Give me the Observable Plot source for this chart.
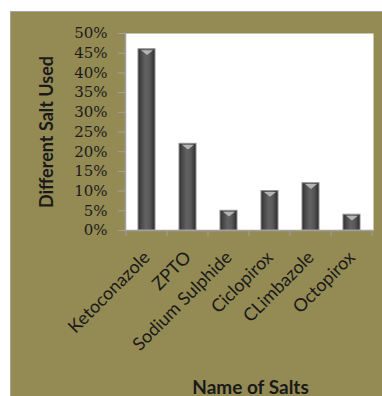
<!DOCTYPE html>
<html>
<head>
<meta charset="utf-8">
<script src="https://cdn.jsdelivr.net/npm/d3@7"></script>
<script src="https://cdn.jsdelivr.net/npm/@observablehq/plot@0.6"></script>
<style>
  html, body { margin: 0; padding: 0; background: #ffffff; }
  body { width: 382px; height: 396px; position: relative; overflow: hidden; }
  #panel { position: absolute; left: 10px; top: 11px; width: 380px; height: 400px;
           background: #948a54; border-left: 1px solid #a5a5a5; border-top: 1px solid #a5a5a5; box-sizing: border-box; }
  #chart { position: absolute; left: 10px; top: 11px; }
  #chart svg { display: block; }
</style>
</head>
<body>
<div id="panel"></div>
<div id="chart"></div>
<script>
const categories = ["Ketoconazole", "ZPTO", "Sodium Sulphide", "Ciclopirox", "CLimbazole", "Octopirox"];
const values = [46, 22, 5, 10, 12, 4];
const yTicks = [0, 5, 10, 15, 20, 25, 30, 35, 40, 45, 50];
const yTitle = "Different Salt Used";
const xTitle = "Name of Salts";

const data = categories.map((c, i) => ({salt: c, value: values[i]}));

const chevron = {
  draw(ctx, size) {
    const w = Math.sqrt(size);
    ctx.moveTo(-w, -w * 0.35);
    ctx.lineTo(w, -w * 0.35);
    ctx.lineTo(0, w * 0.45);
    ctx.closePath();
  }
};

const plot = Plot.plot({
  width: 372,
  height: 385,
  marginLeft: 115,
  marginRight: 9,
  marginTop: 22,
  marginBottom: 166,
  style: {background: "transparent", overflow: "visible"},
  x: {domain: categories, paddingInner: 0.58, paddingOuter: 0.29, label: null, axis: null},
  y: {domain: [0, 50], label: null, axis: null},
  marks: [
    Plot.frame({fill: "white", stroke: "none"}),
    Plot.axisY({ticks: yTicks, tickFormat: d => d + "%", tickSize: 7, tickPadding: 11,
      stroke: "#a0a0a0", fill: "#1a1a1a", fontFamily: "DejaVu Serif", fontSize: 15, label: null}),
    Plot.axisX({tickRotate: -45, tickSize: 0, tickPadding: 24,
      fill: "#1a1a1a", fontFamily: "Lato", fontSize: 18, label: null}),
    Plot.barY(data, {x: "salt", y: "value", fill: "url(#barGrad)", stroke: "#8f8f8f", strokeWidth: 1}),
    Plot.dot(data, {x: "salt", y: "value", symbol: chevron, r: 3.4, dy: 3, fill: "#b4b4b4", stroke: "none"}),
    Plot.ruleY([0], {stroke: "#a0a0a0", strokeWidth: 1.5}),
    Plot.frame({anchor: "left", stroke: "#a0a0a0", strokeWidth: 1.5}),
    Plot.text([yTitle], {frameAnchor: "left", textAnchor: "middle", lineAnchor: "middle", rotate: -90, dx: -78,
      fontWeight: "bold", fontFamily: "Lato", fontSize: 18, fill: "#1a1a1a"}),
    Plot.text([xTitle], {frameAnchor: "bottom", lineAnchor: "bottom", dy: 163, dx: 1, fontWeight: "bold",
      fontFamily: "Lato", fontSize: 19, fill: "#1a1a1a"})
  ]
});

// gradient for cylinder-like bars
const svg = d3.select(plot);
const defs = svg.insert("defs", ":first-child");
const g = defs.append("linearGradient").attr("id", "barGrad").attr("x1", "0").attr("x2", "1").attr("y1", "0").attr("y2", "0");
[["0%", "#2c2c2c"], ["18%", "#484848"], ["45%", "#626262"], ["70%", "#585858"], ["90%", "#3a3a3a"], ["100%", "#2a2a2a"]]
  .forEach(([o, c]) => g.append("stop").attr("offset", o).attr("stop-color", c));

// category boundary ticks below the x axis, positioned from Plot's own x scale
const xs = plot.scale("x");
const ys = plot.scale("y");
const gap = (xs.step - xs.bandwidth) / 2;
const bounds = categories.map(c => xs.apply(c) - gap);
bounds.push(xs.apply(categories[categories.length - 1]) + xs.bandwidth + gap);
const y0 = ys.apply(0);
svg.append("g").attr("stroke", "#a0a0a0").attr("stroke-width", 1)
  .selectAll("line").data(bounds).join("line")
  .attr("x1", d => d).attr("x2", d => d).attr("y1", y0).attr("y2", y0 + 6);

document.getElementById("chart").appendChild(plot);
</script>
</body>
</html>
